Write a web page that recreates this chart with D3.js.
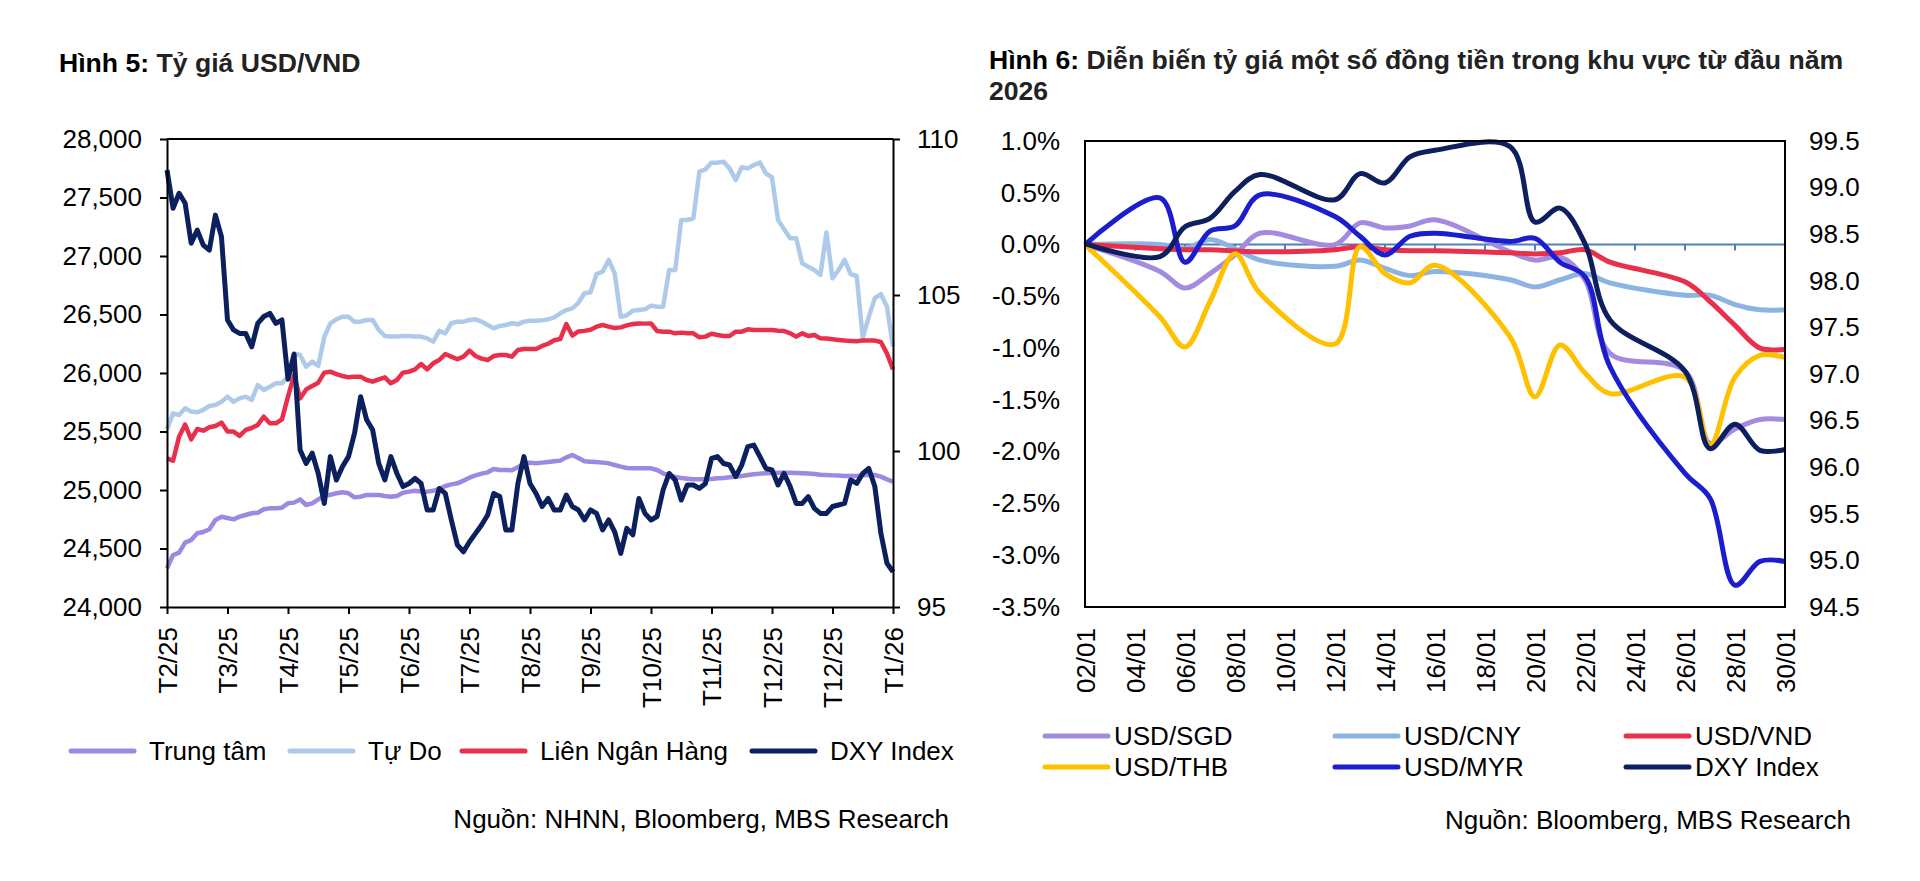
<!DOCTYPE html>
<html>
<head>
<meta charset="utf-8">
<script src="https://cdn.jsdelivr.net/npm/d3@7"></script>
<style>
  body { margin: 0; background: #fff; }
  svg { display: block; font-family: "Liberation Sans", Arial, sans-serif; }
</style>
</head>
<body>
<svg id="chart" width="1920" height="881"></svg>
<script>
// ---- Hinh 5 data (roughly 10 samples per month, T2/25 -> T1/26) ----
var monthLabels = ["T2/25", "T3/25", "T4/25", "T5/25", "T6/25", "T7/25", "T8/25",
                   "T9/25", "T10/25", "T11/25", "T12/25", "T12/25", "T1/26"];

var trungTam = [
  24330, 24444, 24464, 24550, 24573, 24630, 24641, 24664, 24744, 24772,
  24761, 24749, 24772, 24786, 24801, 24806, 24835, 24843, 24843, 24849,
  24886, 24892, 24920, 24872, 24886, 24920, 24949, 24960, 24972, 24980,
  24972, 24937, 24943, 24957, 24957, 24957, 24949, 24943, 24949, 24977,
  24986, 24994, 24986, 24986, 24994, 25008, 25034, 25048, 25057, 25080,
  25105, 25125, 25140, 25151, 25180, 25171, 25171, 25168, 25194, 25228,
  25234, 25228, 25234, 25239, 25245, 25251, 25279, 25299, 25274, 25245,
  25242, 25239, 25234, 25228, 25214, 25200, 25188, 25185, 25185, 25185,
  25185, 25171, 25143, 25125, 25111, 25103, 25097, 25091, 25091, 25091,
  25094, 25100, 25103, 25108, 25114, 25120, 25128, 25134, 25140, 25143,
  25145, 25148, 25148, 25148, 25145, 25143, 25140, 25137, 25131, 25128,
  25125, 25123, 25120, 25120, 25120, 25125, 25128, 25128, 25114, 25091, 25071
];

var tuDo = [
  25520, 25655, 25641, 25698, 25670, 25664, 25684, 25718, 25727, 25755,
  25798, 25755, 25783, 25798, 25769, 25897, 25855, 25883, 25912, 25912,
  25969, 26168, 26154, 26054, 26097, 26060, 26310, 26424, 26459, 26481,
  26481, 26439, 26439, 26453, 26453, 26368, 26316, 26311, 26311, 26316,
  26316, 26311, 26311, 26296, 26268, 26360, 26339, 26425, 26439, 26439,
  26453, 26459, 26439, 26410, 26382, 26402, 26410, 26425, 26416, 26439,
  26447, 26447, 26450, 26459, 26476, 26510, 26538, 26553, 26600, 26681,
  26690, 26846, 26866, 26966, 26852, 26481, 26493, 26533, 26538, 26544,
  26576, 26567, 26567, 26880, 26880, 27308, 27308, 27322, 27721, 27741,
  27798, 27798, 27806, 27749, 27650, 27758, 27749, 27778, 27798, 27707,
  27672, 27308, 27228, 27151, 27151, 26937, 26909, 26880, 26838, 27200,
  26809, 26880, 26966, 26846, 26829, 26300, 26480, 26640, 26675, 26567, 26225
];

var lienNganHang = [
  25270, 25250, 25456, 25560, 25433, 25521, 25507, 25536, 25547, 25576,
  25499, 25499, 25462, 25513, 25530, 25556, 25627, 25570, 25570, 25604,
  25798, 25983, 25783, 25860, 25889, 25917, 26003, 26011, 25991, 25974,
  25963, 25969, 25969, 25940, 25926, 25946, 25963, 25912, 25940, 26003,
  26011, 26031, 26077, 26031, 26083, 26111, 26162, 26140, 26117, 26140,
  26191, 26145, 26123, 26111, 26145, 26154, 26154, 26140, 26197, 26205,
  26205, 26205, 26231, 26250, 26280, 26290, 26419, 26320, 26355, 26360,
  26370, 26396, 26410, 26396, 26385, 26390, 26407, 26419, 26424, 26422,
  26424, 26359, 26353, 26353, 26339, 26345, 26339, 26339, 26305, 26311,
  26336, 26325, 26316, 26316, 26353, 26353, 26373, 26368, 26368, 26368,
  26368, 26362, 26359, 26339, 26311, 26339, 26316, 26325, 26296, 26294,
  26288, 26282, 26277, 26274, 26271, 26277, 26277, 26277, 26265, 26168, 26031
];

var dxyYear = [
  109.0, 107.78, 108.26, 107.94, 106.66, 107.08, 106.6, 106.44, 107.56, 106.87,
  104.2, 103.88, 103.77, 103.77, 103.34, 104.09, 104.31, 104.41, 104.09, 104.2,
  102.3, 103.1, 100.03, 99.6, 99.93, 99.28, 98.32, 99.82, 99.07, 99.5,
  99.82, 100.57, 101.74, 101.0, 100.67, 99.6, 99.07, 99.82, 99.28, 98.86,
  98.96, 99.12, 98.96, 98.11, 98.11, 98.80, 98.64, 97.79, 96.99, 96.77,
  97.09, 97.36, 97.63, 97.95, 98.64, 98.54, 97.47, 97.47, 98.96, 99.82,
  98.96, 98.64, 98.22, 98.48, 98.11, 98.11, 98.59, 98.22, 98.11, 97.79,
  98.11, 98.0, 97.47, 97.79, 97.41, 96.72, 97.52, 97.31, 98.48, 98.0,
  97.79, 97.9, 98.75, 99.28, 99.07, 98.43, 98.91, 98.91, 98.8, 98.96,
  99.76, 99.82, 99.6, 99.55, 99.18, 99.55, 100.14, 100.19, 99.82, 99.44,
  99.39, 98.91, 99.28, 98.86, 98.32, 98.32, 98.54, 98.16, 98.0, 98.0,
  98.22, 98.27, 98.32, 99.07, 98.96, 99.28, 99.44, 98.86, 97.36, 96.4, 96.13
];

var leftTicks5 = [24000, 24500, 25000, 25500, 26000, 26500, 27000, 27500, 28000];
var rightTicks5 = [95, 100, 105, 110];

// ---- Hinh 6 data (business days of January 2026) ----
var janDays = [2, 5, 6, 7, 8, 9, 12, 13, 14, 15, 16, 19, 20, 21, 22, 23, 26, 27, 28, 29, 30];
var dayLabels = ["02/01", "04/01", "06/01", "08/01", "10/01", "12/01", "14/01", "16/01",
                 "18/01", "20/01", "22/01", "24/01", "26/01", "28/01", "30/01"];

var usdSgd = [0, -0.26, -0.42, -0.28, -0.10, 0.11, 0.0, 0.21, 0.16, 0.18, 0.24,
              -0.07, -0.15, -0.12, -0.34, -1.05, -1.22, -1.92, -1.78, -1.69, -1.69];
var usdCny = [0, 0.0, -0.04, 0.05, -0.04, -0.15, -0.21, -0.15, -0.23, -0.30, -0.26,
              -0.34, -0.41, -0.34, -0.28, -0.37, -0.49, -0.49, -0.58, -0.63, -0.63];
var usdVnd = [0, -0.04, -0.05, -0.05, -0.06, -0.07, -0.05, -0.02, -0.05, -0.06, -0.06,
              -0.08, -0.09, -0.08, -0.05, -0.17, -0.36, -0.55, -0.78, -1.00, -1.01];
var usdThb = [0, -0.70, -0.99, -0.55, -0.09, -0.47, -0.96, -0.02, -0.28, -0.37, -0.20,
              -0.89, -1.47, -0.97, -1.24, -1.44, -1.28, -1.94, -1.28, -1.07, -1.09];
var usdMyr = [0, 0.45, -0.17, 0.13, 0.18, 0.48, 0.27, 0.08, -0.10, 0.08, 0.11,
              0.03, 0.06, -0.17, -0.31, -1.18, -2.21, -2.45, -3.29, -3.06, -3.06];
var dxyJan = [98.40, 98.26, 98.58, 98.67, 98.96, 99.14, 98.87, 99.15, 99.05, 99.33, 99.40,
              99.44, 98.63, 98.78, 98.40, 97.58, 97.03, 96.20, 96.46, 96.18, 96.19];

var pctTicks = [1.0, 0.5, 0.0, -0.5, -1.0, -1.5, -2.0, -2.5, -3.0, -3.5];
var dxyTicks = [99.5, 99.0, 98.5, 98.0, 97.5, 97.0, 96.5, 96.0, 95.5, 95.0, 94.5];

const svg = d3.select('#chart');
const FONT = 26;
const TITLE_FONT = 26.6;

function styleAxis(g) {
  g.attr('font-size', FONT).attr('font-family', null);
  g.selectAll('path, line').attr('stroke', '#000').attr('stroke-width', 2);
  g.selectAll('text').attr('fill', '#000');
}

// ================= Hinh 5 =================
const L = {left: 167, right: 893, top: 139, bottom: 607};
const x5 = d3.scaleLinear().domain([0, trungTam.length - 1]).range([L.left, L.right]);
const y5 = d3.scaleLinear().domain([24000, 28000]).range([L.bottom, L.top]);
const y5r = d3.scaleLinear().domain([95, 110]).range([L.bottom, L.top]);

svg.append('text')
  .attr('x', 59).attr('y', 72)
  .attr('font-size', TITLE_FONT).attr('font-weight', 'bold')
  .call(t => {
    t.append('tspan').attr('fill', '#000').text('Hình 5:');
    t.append('tspan').attr('fill', '#222').text(' Tỷ giá USD/VND');
  });

var series5 = [
  {name: 'Trung tâm', values: trungTam, color: '#9d88e2', y: y5, w: 4.5},
  {name: 'Tự Do', values: tuDo, color: '#aecaea', y: y5, w: 4.5},
  {name: 'Liên Ngân Hàng', values: lienNganHang, color: '#e8304c', y: y5, w: 4.5},
  {name: 'DXY Index', values: dxyYear, color: '#0b205d', y: y5r, w: 5}
];

series5.forEach(function(s) {
  var line = d3.line()
    .x(function(d, i) { return x5(i); })
    .y(function(d) { return s.y(d); });
  svg.append('path')
    .attr('d', line(s.values))
    .attr('fill', 'none')
    .attr('stroke', s.color)
    .attr('stroke-width', s.w)
    .attr('stroke-linejoin', 'round');
});

// box + axes
svg.append('line')
  .attr('x1', L.left).attr('x2', L.right).attr('y1', L.top).attr('y2', L.top)
  .attr('stroke', '#000').attr('stroke-width', 2);

svg.append('g')
  .attr('transform', 'translate(' + L.left + ',0)')
  .call(d3.axisLeft(y5).tickValues(leftTicks5).tickFormat(d3.format(','))
        .tickSize(7).tickSizeOuter(0).tickPadding(18))
  .call(styleAxis);

svg.append('g')
  .attr('transform', 'translate(' + L.right + ',0)')
  .call(d3.axisRight(y5r).tickValues(rightTicks5)
        .tickSize(7).tickSizeOuter(0).tickPadding(17))
  .call(styleAxis);

var xAxis5 = svg.append('g')
  .attr('transform', 'translate(0,' + L.bottom + ')')
  .call(d3.axisBottom(x5)
        .tickValues(monthLabels.map(function(d, i) { return i * 10; }))
        .tickFormat(function(d, i) { return monthLabels[i]; })
        .tickSize(7).tickSizeOuter(0))
  .call(styleAxis);
xAxis5.selectAll('text')
  .attr('transform', 'rotate(-90)')
  .attr('text-anchor', 'end')
  .attr('x', -20).attr('y', 0).attr('dy', '0.35em');

// legend
var leg5x = [69, 288, 460, 750];
var leg5 = svg.append('g');
series5.forEach(function(s, i) {
  leg5.append('line')
    .attr('x1', leg5x[i] + 2).attr('x2', leg5x[i] + 65)
    .attr('y1', 751).attr('y2', 751)
    .attr('stroke', s.color).attr('stroke-width', 5).attr('stroke-linecap', 'round');
  leg5.append('text')
    .attr('x', leg5x[i] + 80).attr('y', 751).attr('dy', '0.35em')
    .attr('font-size', FONT).attr('fill', '#000')
    .text(s.name);
});

svg.append('text')
  .attr('x', 949).attr('y', 828)
  .attr('text-anchor', 'end').attr('font-size', FONT).attr('fill', '#000')
  .text('Nguồn: NHNN, Bloomberg, MBS Research');

// ================= Hinh 6 =================
const R = {left: 1085, right: 1785, top: 141, bottom: 607};
const x6 = d3.scaleLinear().domain([2, 30]).range([R.left, R.right]);
const y6 = d3.scaleLinear().domain([-3.5, 1.0]).range([R.bottom, R.top]);
const y6r = d3.scaleLinear().domain([94.5, 99.5]).range([R.bottom, R.top]);

svg.append('text')
  .attr('x', 989).attr('y', 69)
  .attr('font-size', TITLE_FONT).attr('font-weight', 'bold')
  .call(t => {
    t.append('tspan').attr('fill', '#000').text('Hình 6:');
    t.append('tspan').attr('fill', '#222').text(' Diễn biến tỷ giá một số đồng tiền trong khu vực từ đầu năm');
  });
svg.append('text')
  .attr('x', 989).attr('y', 100)
  .attr('font-size', TITLE_FONT).attr('font-weight', 'bold').attr('fill', '#222')
  .text('2026');

// zero axis line with small ticks every 2 days
var zeroG = svg.append('g');
zeroG.append('line')
  .attr('x1', R.left).attr('x2', R.right).attr('y1', y6(0)).attr('y2', y6(0))
  .attr('stroke', '#4f7fbd').attr('stroke-width', 2);
zeroG.selectAll('.zt')
  .data(d3.range(2, 31, 2))
  .enter().append('line')
  .attr('class', 'zt')
  .attr('x1', function(d) { return x6(d); }).attr('x2', function(d) { return x6(d); })
  .attr('y1', y6(0)).attr('y2', y6(0) + 6)
  .attr('stroke', '#4f7fbd').attr('stroke-width', 2);

var series6 = [
  {name: 'USD/SGD', values: usdSgd, color: '#a38be0', y: y6},
  {name: 'USD/CNY', values: usdCny, color: '#8db3e2', y: y6},
  {name: 'USD/VND', values: usdVnd, color: '#e8304c', y: y6},
  {name: 'USD/THB', values: usdThb, color: '#ffc000', y: y6},
  {name: 'USD/MYR', values: usdMyr, color: '#1b1dcf', y: y6},
  {name: 'DXY Index', values: dxyJan, color: '#0d1f5e', y: y6r}
];

series6.forEach(function(s) {
  var line = d3.line()
    .x(function(d, i) { return x6(janDays[i]); })
    .y(function(d) { return s.y(d); })
    .curve(d3.curveCatmullRom.alpha(0.5));
  svg.append('path')
    .attr('d', line(s.values))
    .attr('fill', 'none')
    .attr('stroke', s.color)
    .attr('stroke-width', 5)
    .attr('stroke-linejoin', 'round');
});

svg.append('rect')
  .attr('x', R.left).attr('y', R.top)
  .attr('width', R.right - R.left).attr('height', R.bottom - R.top)
  .attr('fill', 'none').attr('stroke', '#000').attr('stroke-width', 2);

svg.append('g')
  .attr('transform', 'translate(' + R.left + ',0)')
  .call(d3.axisLeft(y6).tickValues(pctTicks)
        .tickFormat(function(d) { return d.toFixed(1) + '%'; })
        .tickSize(0).tickPadding(25))
  .call(styleAxis)
  .call(g => g.select('.domain').remove());

svg.append('g')
  .attr('transform', 'translate(' + R.right + ',0)')
  .call(d3.axisRight(y6r).tickValues(dxyTicks)
        .tickFormat(function(d) { return d.toFixed(1); })
        .tickSize(0).tickPadding(24))
  .call(styleAxis)
  .call(g => g.select('.domain').remove());

var xAxis6 = svg.append('g')
  .attr('transform', 'translate(0,' + R.bottom + ')')
  .call(d3.axisBottom(x6)
        .tickValues(dayLabels.map(function(d, i) { return 2 + i * 2; }))
        .tickFormat(function(d, i) { return dayLabels[i]; })
        .tickSize(0).tickSizeOuter(0))
  .call(styleAxis)
  .call(g => g.select('.domain').remove());
xAxis6.selectAll('text')
  .attr('transform', 'rotate(-90)')
  .attr('text-anchor', 'end')
  .attr('x', -21).attr('y', 0).attr('dy', '0.35em');

// legend, 3 columns x 2 rows
var leg6x = [1043, 1333, 1624];
var leg6y = [736, 767];
var leg6 = svg.append('g');
series6.forEach(function(s, i) {
  var cx = leg6x[i % 3], cy = leg6y[Math.floor(i / 3)];
  leg6.append('line')
    .attr('x1', cx + 2).attr('x2', cx + 65)
    .attr('y1', cy).attr('y2', cy)
    .attr('stroke', s.color).attr('stroke-width', 5).attr('stroke-linecap', 'round');
  leg6.append('text')
    .attr('x', cx + 71).attr('y', cy).attr('dy', '0.35em')
    .attr('font-size', FONT).attr('fill', '#000')
    .text(s.name);
});

svg.append('text')
  .attr('x', 1851).attr('y', 829)
  .attr('text-anchor', 'end').attr('font-size', FONT).attr('fill', '#000')
  .text('Nguồn: Bloomberg, MBS Research');
</script>
</body>
</html>
